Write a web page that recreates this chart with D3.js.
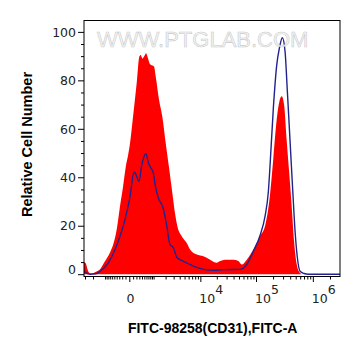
<!DOCTYPE html>
<html><head><meta charset="utf-8">
<script src="https://cdn.jsdelivr.net/npm/d3@7"></script>
<style>body{margin:0;background:#fff}svg{display:block}</style>
</head><body><svg id="c" width="361" height="356"></svg>
<script>
// ---- data (fluorescence intensity, relative cell number %) ----
const stainedX = [-3150,-2900,-2600,-2340,-2000,-1700,-1360,-1070,-710,-560,-390,-275,-175,-86,-32,17,97,209,299,350,420,500,580,660,760,826,1029,1145,1394,1679,2015,2388,2815,3208,3614,4394,5512,6386,8562,11364,15090,19962,22902,28164,39648,48660,55920,68640,89760,117840,144500,176940,202200,232020,258100,284300,312100,348200,386800,426360,467800,522000,573000,646000,3000000];
const stainedY = [5,4.5,1.5,0.3,0.4,1,2,4.7,9,12,19,28,36,45,49,54,65,79,89.8,90.5,89,90,91.2,89.5,87,86.4,85.7,81.6,72,65,54,44,33.5,25,19.5,15.7,12.9,10.2,8.1,7.4,6,4.7,5.4,6,6,5.4,4,6,10.2,15.7,20,33,48,64,71.3,73.4,70,54.8,41,27.4,13.6,4,1,0,0];

const controlX = [-3150,-3000,-2340,-1707,-1362,-803,-470,-274,-114,17,126,187,288,391,579,694,826,983,1131,1339,1773,2123,2512,2956,3480,4062,5512,8562,13122,17322,26256,52182,68640,89760,117840,144500,165000,176940,202200,232020,258100,291400,324960,356700,398000,444100,487200,534800,596600,700800,834600,3000000];
const controlY = [1.5,0.8,0,0.2,1.2,4.7,10.2,15.7,22.5,32,42.2,41,38.3,45,49.7,46,44,41.8,36,31.5,27,20,12.2,11,7,6,4.7,2.8,1.8,1.6,1.9,2,4,9.5,16,24,34,45,68.6,86.4,93.3,97.6,91.9,75.4,54.8,34.2,17.7,6.8,1.2,0.3,0,0];

const yMajorTicks = [0,20,40,60,80,100];
const yMinorTicks = d3.range(5,105,5).filter(v => v % 20 !== 0);
const xMajorTicks = [0,1e4,1e5,1e6];
const xTickLabels = [{base:"0",exp:""},{base:"10",exp:"4"},{base:"10",exp:"5"},{base:"10",exp:"6"}];
const xMinorTicks = [];
[-3000,-2000,-1000].forEach(v=>xMinorTicks.push(v));
for (let m=9;m>=1;m--) xMinorTicks.push(-m*100);
for (let m=1;m<=9;m++) xMinorTicks.push(m*100);
[1e3,1e4,1e5].forEach(dec=>{ for(let m=(dec===1e3?1:2);m<=9;m++) xMinorTicks.push(m*dec); });
xMinorTicks.push(2e6);

const yTitle = "Relative Cell Number";
const xTitle = "FITC-98258(CD31),FITC-A";
const watermark = "WWW.PTGLAB.COM";

// ---- layout ----
const L=84, R=340, T=20.5, B=276.5;
const svg = d3.select("#c");
const x = d3.scaleSymlog().constant(600).domain([-3150,3e6]).range([L,R]);
const y = d3.scaleLinear().domain([-0.95,104.7]).range([B,T]);

svg.append("clipPath").attr("id","clip").append("rect")
  .attr("x",L).attr("y",T).attr("width",R-L).attr("height",B-T);

const stained = stainedX.map((v,i)=>[v,stainedY[i]]);
const control = controlX.map((v,i)=>[v,controlY[i]]);

const plot = svg.append("g").attr("clip-path","url(#clip)");
plot.append("path").datum(stained)
  .attr("fill","#ff0000")
  .attr("d", d3.area().x(d=>x(d[0])).y0(y(0)).y1(d=>y(d[1])).curve(d3.curveMonotoneX));
plot.append("path").datum(control)
  .attr("fill","none").attr("stroke","#22228c").attr("stroke-width",1.4)
  .attr("stroke-linejoin","round")
  .attr("d", d3.line().x(d=>x(d[0])).y(d=>y(d[1])).curve(d3.curveMonotoneX));

// watermark
svg.append("text").attr("x",97).attr("y",47)
  .attr("font-family","Liberation Sans, Arial, sans-serif").attr("font-size",22)
  .attr("fill","#f3f3f3").attr("fill-opacity",0.85)
  .attr("stroke","#bdbdbd").attr("stroke-width",0.6).attr("stroke-opacity",0.8)
  .text(watermark);

// frame
svg.append("rect").attr("x",L).attr("y",T).attr("width",R-L).attr("height",B-T)
  .attr("fill","none").attr("stroke","#000").attr("stroke-width",1);

// y axis
const gyMinor = svg.append("g").attr("transform",`translate(${L},0)`)
  .call(d3.axisLeft(y).tickValues(yMinorTicks).tickSize(3).tickFormat(""));
const gyMajor = svg.append("g").attr("transform",`translate(${L},0)`)
  .call(d3.axisLeft(y).tickValues(yMajorTicks).tickSize(6).tickPadding(2));
[gyMinor,gyMajor].forEach(g=>{g.select(".domain").remove(); g.selectAll("line").attr("stroke","#000");});
gyMajor.selectAll("text")
  .attr("font-family","DejaVu Sans, sans-serif").attr("font-size",12.5).attr("fill","#222")
  .attr("dy", d => d===0 ? "-0.05em" : "0.34em");

// x axis
const gxMinor = svg.append("g").attr("transform",`translate(0,${B})`)
  .call(d3.axisBottom(x).tickValues(xMinorTicks).tickSize(3).tickFormat(""));
const gxMajor = svg.append("g").attr("transform",`translate(0,${B})`)
  .call(d3.axisBottom(x).tickValues(xMajorTicks).tickSize(5.5).tickFormat(""));
[gxMinor,gxMajor].forEach(g=>{g.select(".domain").remove(); g.selectAll("line").attr("stroke","#000");});

xMajorTicks.forEach((v,i)=>{
  const lab = xTickLabels[i];
  const t = svg.append("text")
    .attr("font-family","DejaVu Sans, sans-serif").attr("font-size",12.5).attr("fill","#222")
    .attr("y",303);
  if (lab.exp === "") {
    t.attr("x", x(v)+1.2).attr("text-anchor","middle").text(lab.base);
  } else {
    t.attr("x", x(v)-1).attr("text-anchor","start");
    t.append("tspan").text(lab.base);
    t.append("tspan").attr("dy",-9).text(lab.exp);
  }
});

// titles
svg.append("text").attr("transform","translate(31.5,144.5) rotate(-90)")
  .attr("text-anchor","middle").attr("font-family","Liberation Sans, Arial, sans-serif")
  .attr("font-weight","bold").attr("font-size",14.5).attr("fill","#000").text(yTitle);
svg.append("text").attr("x",212.7).attr("y",333)
  .attr("text-anchor","middle").attr("font-family","Liberation Sans, Arial, sans-serif")
  .attr("font-weight","bold").attr("font-size",14).attr("fill","#000").text(xTitle);
</script>
</body></html>
